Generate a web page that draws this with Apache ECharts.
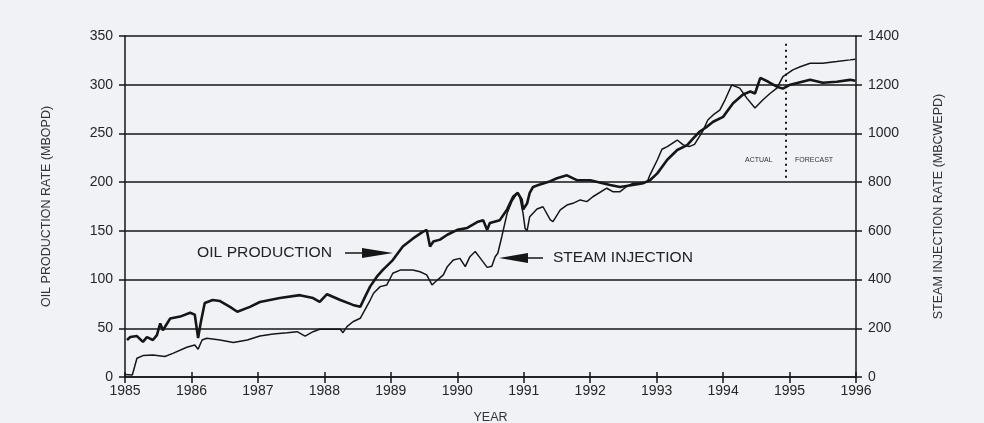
<!DOCTYPE html>
<html>
<head>
<meta charset="utf-8">
<script src="https://cdn.jsdelivr.net/npm/echarts@6/dist/echarts.min.js"></script>
<style>
  html, body { margin: 0; padding: 0; background: #f1f2f5; }
  #chart { width: 984px; height: 423px; }
</style>
</head>
<body>
<div id="chart"></div>
<script>
const yearTicks = [1985, 1986, 1987, 1988, 1989, 1990, 1991, 1992, 1993, 1994, 1995, 1996];

// oil production, MBOPD (left axis)
const oilYears = [
    1985.03, 1985.08, 1985.18, 1985.27, 1985.33, 1985.42, 1985.48, 1985.53, 1985.57, 1985.68,
    1985.83, 1985.98, 1986.05, 1986.10, 1986.14, 1986.20, 1986.32, 1986.43, 1986.58, 1986.69,
    1986.88, 1987.03, 1987.33, 1987.63, 1987.83, 1987.93, 1988.04, 1988.24, 1988.43, 1988.54,
    1988.61, 1988.69, 1988.79, 1988.88, 1989.03, 1989.18, 1989.33, 1989.48, 1989.54, 1989.59,
    1989.64, 1989.74, 1989.85, 1990.00, 1990.15, 1990.30, 1990.39, 1990.45, 1990.49, 1990.64,
    1990.75, 1990.84, 1990.91, 1990.97, 1990.99, 1991.05, 1991.09, 1991.14, 1991.22, 1991.40,
    1991.50, 1991.65, 1991.80, 1992.00, 1992.30, 1992.45, 1992.64, 1992.80, 1992.90, 1993.01,
    1993.16, 1993.31, 1993.46, 1993.55, 1993.65, 1993.76, 1993.85, 1994.00, 1994.15, 1994.30,
    1994.41, 1994.48, 1994.56, 1994.68, 1994.81, 1994.90, 1995.01, 1995.31, 1995.50, 1995.71,
    1995.91, 1995.99
];
const oilRate = [
    38, 41, 42, 36, 41, 38, 43, 55, 48, 60,
    62, 66, 64, 40, 56, 76, 79, 78, 72, 67,
    72, 77, 81, 84, 81, 77, 85, 79, 74, 72,
    82, 93, 103, 110, 120, 134, 142, 149, 151, 134,
    139, 141, 146, 151, 153, 159, 161, 151, 158, 161,
    172, 185, 189, 182, 172, 178, 189, 195, 197, 201,
    204, 207, 202, 202, 197, 195, 197, 199, 202, 209,
    223, 233, 238, 245, 252, 257, 262, 267, 281, 290,
    293, 291, 307, 303, 298, 296, 300, 305, 302, 303,
    305, 304
];

// steam injection, MBCWEPD (right axis)
const steamYears = [
    1985.00, 1985.11, 1985.18, 1985.27, 1985.42, 1985.60, 1985.72, 1985.93, 1986.05, 1986.10,
    1986.16, 1986.23, 1986.43, 1986.63, 1986.84, 1987.03, 1987.23, 1987.44, 1987.59, 1987.71,
    1987.83, 1987.93, 1988.24, 1988.28, 1988.34, 1988.43, 1988.54, 1988.69, 1988.74, 1988.84,
    1988.94, 1989.03, 1989.14, 1989.33, 1989.44, 1989.54, 1989.62, 1989.70, 1989.79, 1989.85,
    1989.94, 1990.04, 1990.12, 1990.19, 1990.27, 1990.34, 1990.45, 1990.52, 1990.57, 1990.61,
    1990.67, 1990.75, 1990.82, 1990.90, 1990.94, 1990.99, 1991.02, 1991.05, 1991.09, 1991.20,
    1991.29, 1991.40, 1991.44, 1991.55, 1991.65, 1991.74, 1991.85, 1991.95, 1992.04, 1992.25,
    1992.34, 1992.45, 1992.55, 1992.64, 1992.75, 1992.86, 1992.90, 1993.01, 1993.08, 1993.16,
    1993.31, 1993.40, 1993.49, 1993.57, 1993.69, 1993.77, 1993.85, 1993.95, 1994.03, 1994.13,
    1994.25, 1994.36, 1994.48, 1994.60, 1994.71, 1994.81, 1994.90, 1995.05, 1995.16, 1995.31,
    1995.50, 1995.71, 1995.91, 1995.99
];
const steamRate = [
    10, 8, 77, 88, 90, 84, 97, 122, 131, 114,
    152, 159, 152, 142, 152, 168, 177, 182, 186, 168,
    186, 196, 196, 182, 207, 227, 241, 316, 344, 371,
    378, 426, 439, 439, 432, 419, 378, 398, 419, 453,
    480, 487, 453, 494, 515, 490, 450, 455, 494, 508,
    576, 672, 720, 754, 740, 672, 611, 600, 658, 690,
    699, 645, 638, 686, 706, 713, 727, 720, 740, 775,
    761, 761, 782, 795, 795, 802, 830, 891, 935, 946,
    973, 953, 946, 955, 1007, 1055, 1076, 1096, 1138, 1199,
    1186, 1144, 1104, 1138, 1165, 1186, 1233, 1261, 1274, 1288,
    1288, 1295, 1302, 1305
];

const forecastStart = 1994.95;

const FONT = "Liberation Sans";
const INK = "#161616";

function zip(xs, ys) {
    return xs.map((x, i) => [x, ys[i]]);
}

const chart = echarts.init(document.getElementById("chart"));

const yAxisCommon = {
    type: "value",
    nameLocation: "middle",
    nameTextStyle: { fontFamily: FONT, fontSize: 12.5, color: "#333" },
    axisLine: { show: true, lineStyle: { color: INK, width: 1.5 } },
    axisTick: { show: true, length: 6, lineStyle: { color: INK, width: 1.5 } },
    axisLabel: { fontFamily: FONT, fontSize: 14, color: "#262626", margin: 12, formatter: (v) => String(v) }
};

chart.setOption({
    backgroundColor: "#f1f2f5",
    animation: false,
    grid: { left: 125, right: 128, top: 36, bottom: 46, containLabel: false, outerBoundsMode: "none" },
    xAxis: [
        {
            type: "value",
            min: 1985,
            max: 1996,
            interval: 1,
            name: "YEAR",
            nameLocation: "middle",
            nameGap: 34,
            nameTextStyle: { fontFamily: FONT, fontSize: 12.5, color: "#333" },
            axisLine: { lineStyle: { color: INK, width: 1.5 } },
            axisTick: { length: 6, lineStyle: { color: INK, width: 1.5 } },
            axisLabel: {
                fontFamily: FONT, fontSize: 14, color: "#262626", margin: 7,
                formatter: (v) => (yearTicks.includes(v) ? String(v) : "")
            },
            splitLine: { show: false }
        },
        {
            // inner half of the crossing ticks
            type: "value",
            min: 1985,
            max: 1996,
            interval: 1,
            position: "bottom",
            axisLine: { show: false },
            axisTick: { inside: true, length: 5, lineStyle: { color: INK, width: 1.5 } },
            axisLabel: { show: false },
            splitLine: { show: false }
        }
    ],
    yAxis: [
        Object.assign({}, yAxisCommon, {
            min: 0,
            max: 350,
            interval: 50,
            name: "OIL PRODUCTION RATE (MBOPD)",
            nameGap: 72,
            position: "left",
            splitLine: { show: true, lineStyle: { color: INK, width: 1.5 } }
        }),
        Object.assign({}, yAxisCommon, {
            min: 0,
            max: 1400,
            interval: 200,
            name: "STEAM INJECTION RATE (MBCWEPD)",
            nameGap: 76,
            position: "right",
            splitLine: { show: false }
        })
    ],
    series: [
        {
            name: "Oil production",
            type: "line",
            data: zip(oilYears, oilRate),
            showSymbol: false,
            lineStyle: { color: INK, width: 2.6 },
            z: 4,
            markLine: {
                silent: true,
                symbol: "none",
                label: { show: false },
                lineStyle: { color: INK, type: [2, 4], width: 2 },
                data: [[{ coord: [forecastStart, 342] }, { coord: [forecastStart, 201] }]]
            }
        },
        {
            name: "Steam injection",
            type: "line",
            yAxisIndex: 1,
            data: zip(steamYears, steamRate),
            showSymbol: false,
            lineStyle: { color: INK, width: 1.5 },
            z: 3
        }
    ],
    graphic: [
        { type: "text", left: 745, top: 157, style: { text: "ACTUAL", font: "7px " + FONT, fill: "#333" } },
        { type: "text", left: 795, top: 157, style: { text: "FORECAST", font: "7px " + FONT, fill: "#333" } },
        {
            type: "text", x: 197, y: 246, scaleX: 1.12,
            style: { text: "OIL PRODUCTION", font: "14px " + FONT, fill: "#222" }
        },
        { type: "line", shape: { x1: 345, y1: 253, x2: 364, y2: 253 }, style: { stroke: INK, lineWidth: 1.5 } },
        { type: "polygon", shape: { points: [[362, 248], [393, 253], [362, 258]] }, style: { fill: INK } },
        {
            type: "text", x: 553, y: 251, scaleX: 1.11,
            style: { text: "STEAM INJECTION", font: "14px " + FONT, fill: "#222" }
        },
        { type: "line", shape: { x1: 525, y1: 258, x2: 543, y2: 258 }, style: { stroke: INK, lineWidth: 1.5 } },
        { type: "polygon", shape: { points: [[528, 253], [499, 258], [528, 263]] }, style: { fill: INK } }
    ]
});
</script>
</body>
</html>
